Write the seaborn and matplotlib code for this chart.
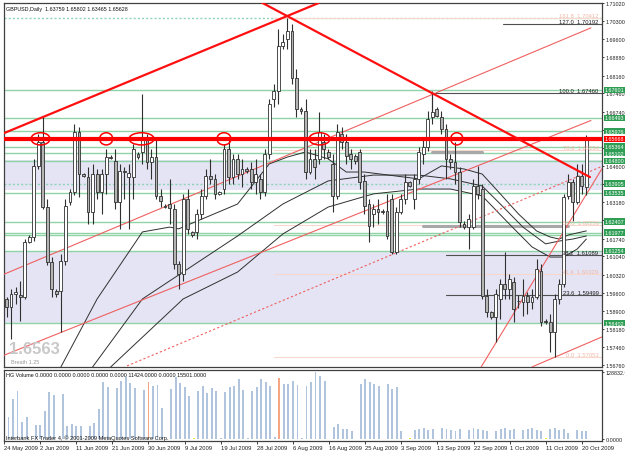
import numpy as np
import pandas as pd
import matplotlib
matplotlib.use('Agg')
import matplotlib.pyplot as plt
import matplotlib.transforms as mtransforms
from matplotlib.patches import Ellipse
import seaborn as sns

sns.set_style('white')
plt.rcParams['font.family'] = ['Liberation Sans', 'DejaVu Sans']

# ---------------- data ----------------
dates = ['24 May 2009', '2 Jun 2009', '11 Jun 2009', '21 Jun 2009', '30 Jun 2009',
         '9 Jul 2009', '19 Jul 2009', '28 Jul 2009', '6 Aug 2009', '16 Aug 2009',
         '25 Aug 2009', '3 Sep 2009', '13 Sep 2009', '22 Sep 2009', '1 Oct 2009',
         '11 Oct 2009', '20 Oct 2009']

opens = [1.5916, 1.5936, 1.5904, 1.5955, 1.5951, 1.5944, 1.6160, 1.6180, 1.6460, 1.6554,
         1.6298, 1.6082, 1.5967, 1.5967, 1.6086, 1.6318, 1.6357, 1.6594, 1.6428, 1.6416,
         1.6279, 1.6428, 1.6357, 1.6428, 1.6495, 1.6480, 1.6318, 1.6440, 1.6416, 1.6416,
         1.6507, 1.6515, 1.6566, 1.6476, 1.6495, 1.6342, 1.6302, 1.6310, 1.6290, 1.6074,
         1.6034, 1.6330, 1.6200, 1.6200, 1.6271, 1.6342, 1.6420, 1.6409, 1.6350, 1.6369,
         1.6527, 1.6416, 1.6488, 1.6428, 1.6448, 1.6448, 1.6397, 1.6409, 1.6357, 1.6507,
         1.6724, 1.6755, 1.6932, 1.6960, 1.6992, 1.6807, 1.6685, 1.6677, 1.6436, 1.6488,
         1.6488, 1.6554, 1.6515, 1.6468, 1.6342, 1.6586, 1.6554, 1.6507, 1.6499, 1.6515,
         1.6401, 1.6310, 1.6271, 1.6290, 1.6282, 1.6282, 1.6330, 1.6121, 1.6279, 1.6330,
         1.6397, 1.6330, 1.6409, 1.6507, 1.6535, 1.6653, 1.6685, 1.6653, 1.6606, 1.6488,
         1.6476, 1.6436, 1.6231, 1.6219, 1.6219, 1.6381, 1.6369, 1.5948, 1.5885, 1.5865,
         1.5936, 1.5995, 1.5975, 1.6003, 1.5928, 1.5924, 1.5948, 1.5924, 1.5944, 1.6046,
         1.5849, 1.5845, 1.5806, 1.5936, 1.5995, 1.6342, 1.6397, 1.6318, 1.6420, 1.63759]
highs = [1.5955, 1.5944, 1.5975, 1.5983, 1.6007, 1.6172, 1.6188, 1.6488, 1.6586, 1.6657,
         1.6330, 1.6101, 1.5975, 1.6113, 1.6330, 1.6369, 1.6625, 1.6614, 1.6432, 1.6456,
         1.6468, 1.6448, 1.6448, 1.6527, 1.6503, 1.6527, 1.6468, 1.6456, 1.6468, 1.6547,
         1.6515, 1.6744, 1.6586, 1.6527, 1.6566, 1.6369, 1.6310, 1.6409, 1.6310, 1.6086,
         1.6350, 1.6369, 1.6204, 1.6290, 1.6369, 1.6448, 1.6488, 1.6428, 1.6361, 1.6547,
         1.6566, 1.6507, 1.6507, 1.6488, 1.6456, 1.6476, 1.6488, 1.6428, 1.6527, 1.6724,
         1.6783, 1.6999, 1.6980, 1.7043, 1.7019, 1.6842, 1.6693, 1.6724, 1.6527, 1.6527,
         1.6673, 1.6586, 1.6527, 1.6507, 1.6625, 1.6614, 1.6586, 1.6527, 1.6507, 1.6527,
         1.6428, 1.6330, 1.6310, 1.6330, 1.6290, 1.6350, 1.6350, 1.6298, 1.6350, 1.6428,
         1.6401, 1.6428, 1.6535, 1.6566, 1.6677, 1.6755, 1.6693, 1.6677, 1.6625, 1.6507,
         1.6554, 1.6456, 1.6243, 1.6271, 1.6409, 1.6460, 1.6389, 1.5975, 1.5889, 1.5975,
         1.6015, 1.6121, 1.6034, 1.6023, 1.5951, 1.6015, 1.5963, 1.5975, 1.6094, 1.6074,
         1.5857, 1.5877, 1.5955, 1.6015, 1.6350, 1.6428, 1.6409, 1.6468, 1.6468, 1.65802]
lows = [1.5889, 1.5865, 1.5778, 1.5916, 1.5849, 1.5936, 1.6156, 1.6164, 1.6448, 1.6290,
        1.6070, 1.5944, 1.5944, 1.5806, 1.6070, 1.6306, 1.6346, 1.6338, 1.6416, 1.6231,
        1.6231, 1.6330, 1.6271, 1.6350, 1.6488, 1.6290, 1.6212, 1.6330, 1.6212, 1.6330,
        1.6488, 1.6468, 1.6448, 1.6409, 1.6330, 1.6298, 1.6294, 1.6231, 1.6054, 1.5975,
        1.6007, 1.6192, 1.6180, 1.6172, 1.6251, 1.6330, 1.6389, 1.6330, 1.6346, 1.6350,
        1.6389, 1.6389, 1.6409, 1.6377, 1.6432, 1.6369, 1.6350, 1.6330, 1.6342, 1.6488,
        1.6693, 1.6705, 1.6921, 1.6921, 1.6783, 1.6653, 1.6665, 1.6409, 1.6428, 1.6409,
        1.6468, 1.6488, 1.6488, 1.6279, 1.6330, 1.6527, 1.6468, 1.6448, 1.6468, 1.6369,
        1.6271, 1.6160, 1.6219, 1.6231, 1.6271, 1.6172, 1.6113, 1.6113, 1.6271, 1.6310,
        1.6377, 1.6290, 1.6389, 1.6468, 1.6519, 1.6625, 1.6653, 1.6586, 1.6409, 1.6448,
        1.6389, 1.6219, 1.6212, 1.6133, 1.6212, 1.6330, 1.5936, 1.5865, 1.5857, 1.5766,
        1.5857, 1.5936, 1.5936, 1.5845, 1.5900, 1.5869, 1.5877, 1.5896, 1.5936, 1.5829,
        1.5837, 1.5727, 1.5707, 1.5916, 1.5983, 1.6330, 1.6243, 1.6310, 1.6350, 1.63465]
closes = [1.5936, 1.5904, 1.5955, 1.5963, 1.5944, 1.6160, 1.6180, 1.6460, 1.6554, 1.6298,
          1.6082, 1.5975, 1.5955, 1.6086, 1.6302, 1.6357, 1.6594, 1.6428, 1.6420, 1.6279,
          1.6428, 1.6357, 1.6428, 1.6495, 1.6491, 1.6318, 1.6440, 1.6436, 1.6432, 1.6527,
          1.6495, 1.6566, 1.6476, 1.6495, 1.6342, 1.6322, 1.6298, 1.6294, 1.6074, 1.6034,
          1.6330, 1.6212, 1.6188, 1.6271, 1.6342, 1.6420, 1.6409, 1.6350, 1.6357, 1.6527,
          1.6416, 1.6488, 1.6428, 1.6448, 1.6440, 1.6397, 1.6428, 1.6357, 1.6507, 1.6705,
          1.6755, 1.6932, 1.6948, 1.6992, 1.6807, 1.6685, 1.6677, 1.6436, 1.6488, 1.6456,
          1.6594, 1.6527, 1.6495, 1.6342, 1.6594, 1.6554, 1.6499, 1.6488, 1.6480, 1.6397,
          1.6302, 1.6223, 1.6290, 1.6279, 1.6279, 1.6184, 1.6121, 1.6279, 1.6330, 1.6397,
          1.6381, 1.6409, 1.6515, 1.6535, 1.6645, 1.6673, 1.6657, 1.6606, 1.6488, 1.6476,
          1.6436, 1.6239, 1.6219, 1.6251, 1.6381, 1.6350, 1.5948, 1.5885, 1.5865, 1.5955,
          1.5995, 1.5975, 1.6015, 1.5896, 1.5926, 1.5948, 1.5924, 1.5944, 1.6054, 1.5845,
          1.5845, 1.5806, 1.5936, 1.5995, 1.6338, 1.6397, 1.6318, 1.6420, 1.6381, 1.65628]

volumes = [0, 42300, 76900, 92300, 32700, 42300, 0, 26900, 26900, 53800,
           90400, 84600, 0, 86500, 25000, 28800, 25000, 25000, 0, 25000,
           30800, 57700, 109600, 100000, 0, 98100, 111500, 119200, 107700, 98100,
           0, 94200, 109600, 101900, 103800, 59600, 0, 96200, 119200, 107700,
           100000, 82700, 1900, 92300, 101900, 88500, 98100, 92300, 1900, 90400,
           100000, 101900, 115400, 94200, 1900, 92300, 100000, 115400, 109600, 101900,
           3800, 117300, 105800, 105800, 111500, 103800, 1900, 101900, 109600, 128800,
           121100, 111500, 0, 23100, 28800, 19200, 19200, 15400, 0, 105800,
           115400, 109600, 105800, 101900, 0, 105800, 96200, 100000, 15400, 0,
           1900, 17300, 19200, 21200, 17300, 19200, 0, 21200, 19200, 17300,
           15400, 19200, 0, 17300, 21200, 19200, 17300, 15400, 0, 15400,
           19200, 21200, 17300, 19200, 0, 17300, 19200, 21200, 17300, 15400,
           1900, 19200, 21200, 17300, 19200, 11500, 0, 17300, 15400, 15501]
volume_hilite = {32: '#f4a582', 61: '#f4a582', 42: '#f0e040', 90: '#f0e040', 120: '#f0e040'}

# moving averages: (bar, value) knots
ma1_bars = [13, 21, 31, 37, 39, 52, 59, 63, 67, 72, 76, 80, 92, 97, 102, 106, 110, 114, 118, 121, 123, 125, 129]
ma1_vals = [1.5668, 1.5936, 1.6200, 1.6219, 1.6212, 1.6310, 1.6468, 1.6495, 1.6515, 1.6488, 1.6436, 1.6436,
            1.6409, 1.6460, 1.6448, 1.6428, 1.6350, 1.6271, 1.6204, 1.6180, 1.6172, 1.6188, 1.6204]
ma2_bars = [20, 31, 52, 62, 72, 82, 92, 99, 106, 110, 115, 120, 123, 126, 129]
ma2_vals = [1.5668, 1.5936, 1.6184, 1.6310, 1.6401, 1.6424, 1.6424, 1.6409, 1.6381, 1.6310, 1.6219,
            1.6153, 1.6164, 1.6172, 1.6184]
ma3_bars = [24, 40, 52, 62, 72, 82, 92, 99, 106, 112, 117, 121, 124, 127, 129]
ma3_vals = [1.5668, 1.5936, 1.6042, 1.6192, 1.6298, 1.6350, 1.6369, 1.6369, 1.6342, 1.6231, 1.6141,
            1.6101, 1.6101, 1.6133, 1.6172]

# horizontal levels
level_main = 1.65668
green_levels = [1.67601, 1.66493, 1.65976, 1.65364, 1.65102, 1.64800, 1.63535,
                1.62407, 1.61977, 1.61870, 1.61254, 1.58402]
green_dotted = [1.63905, 1.70427]
bands = [(1.63650, 1.64850), (1.58402, 1.61254)]
ellipse_bars = [(8.5, 4.2), (23.0, 2.9), (30.8, 5.5), (49.0, 3.1), (70.1, 4.6), (100.4, 2.7)]

# trend lines: (bar0, price0, bar1, price1)
ray_line = (0, 1.6586, 63, 1.7051)
down_line = (55, 1.7126, 129.8, 1.6416)
thin_lines = [(0, 1.6030, 130, 1.7004), (0, 1.5711, 130, 1.6639),
              (105.5, 1.5660, 132.4, 1.6448), (117, 1.5668, 132.4, 1.5786)]
dotted_lines = [(27.6, 1.5672, 132.4, 1.6458)]

fib_black = [(1.70192, '127.0  1.70192', 110.5), (1.67460, '100.0  1.67460', 95),
             (1.61089, '38.2  1.61089', 98), (1.59499, '23.6  1.59499', 98)]
fib_faint = [(1.70412, '161.8  1.70412'), (1.65234, '78.6  1.65234'), (1.62256, '50.0  1.62256'),
             (1.60329, '31.4  1.60329'), (1.57053, '0.0  1.57053')]
gray_bars = [(1.6223, 93, 125), (1.6515, 95, 106)]

price_ticks = [1.71020, 1.70300, 1.69600, 1.68880, 1.68160, 1.67460, 1.66740, 1.66020, 1.65300,
               1.64600, 1.63880, 1.63180, 1.62460, 1.61740, 1.61040, 1.60320, 1.59600, 1.58900,
               1.58180, 1.57460, 1.56760]
box_labels = [(1.67601, '#2f9e55'), (1.66493, '#2f9e55'), (1.65976, '#2f9e55'), (1.65364, '#2f9e55'),
              (1.65102, '#2f9e55'), (1.64800, '#2f9e55'), (1.63905, '#2f9e55'), (1.63535, '#2f9e55'),
              (1.62407, '#2f9e55'), (1.61977, '#2f9e55'), (1.61254, '#2f9e55'), (1.58402, '#2f9e55'),
              (1.65668, '#ff0000')]

# ---------------- figure ----------------
W, H = 625, 456
fig = plt.figure(figsize=(W / 100, H / 100), dpi=100)
ax = fig.add_axes([4 / W, (H - 368) / H, 598 / W, 364 / H])
axv = fig.add_axes([4 / W, (H - 442) / H, 598 / W, 71 / H])

xlim = (0.44, 132.45)
n = len(closes)
bars = np.arange(n)
df = pd.DataFrame({'bar': bars, 'open': opens, 'high': highs, 'low': lows,
                   'close': closes, 'volume': volumes})
tr = mtransforms.blended_transform_factory(ax.transAxes, ax.transData)

# bands + levels
for lo, hi in bands:
    ax.axhspan(lo, hi, color='#e4e4f4', zorder=0, lw=0)
for lv in green_levels:
    ax.axhline(lv, color='#8fd3a6', lw=1.0, zorder=1)
for lv in green_dotted:
    ax.axhline(lv, color='#8fd3b8', lw=1.0, ls=(0, (1.5, 1.5)), zorder=1)
for p, txt in fib_faint:
    ax.plot([60, xlim[1]], [p, p], color='#f8d8cc', lw=0.8, zorder=1)
    ax.text(0.994, p, txt, transform=tr, ha='right', va='bottom', fontsize=4.2,
            color='#f0b8a8', zorder=6)
for p, x0, x1 in gray_bars:
    ax.plot([x0, x1], [p, p], color='#a8a8a8', lw=2.2, zorder=2)
for p, txt, x0 in fib_black:
    ax.plot([x0, xlim[1]], [p, p], color='#505050', lw=0.8, zorder=2)
    ax.text(0.994, p, txt, transform=tr, ha='right', va='bottom', fontsize=4.2,
            color='#202020', zorder=6)
ax.plot([95, 95], [1.67460, 1.6660], color='#505050', lw=0.8, zorder=2)

# moving averages
for mb, mv in [(ma1_bars, ma1_vals), (ma2_bars, ma2_vals), (ma3_bars, ma3_vals)]:
    sns.lineplot(x=mb, y=mv, ax=ax, color='#303030', lw=0.7, zorder=3)

# thin trend lines
for b0, p0, b1, p1 in thin_lines:
    sns.lineplot(x=[b0, b1], y=[p0, p1], ax=ax, color='#f06060', lw=0.8, zorder=3)
for b0, p0, b1, p1 in dotted_lines:
    ax.plot([b0, b1], [p0, p1], color='#f06060', lw=0.8, ls=(0, (2, 2)), zorder=3)

# candles
up = df['close'] >= df['open']
ax.vlines(df['bar'], df['low'], df['high'], color='#303030', lw=0.8, zorder=4)
body_h = (df['close'] - df['open']).abs().clip(lower=0.00025)
body_b = df[['open', 'close']].min(axis=1)
ax.bar(df['bar'][up], body_h[up], bottom=body_b[up], width=0.62,
       color='#ffffff', edgecolor='#303030', lw=0.6, zorder=5)
ax.bar(df['bar'][~up], body_h[~up], bottom=body_b[~up], width=0.62,
       color='#b4b4b4', edgecolor='#303030', lw=0.6, zorder=5)

# thick red lines
ax.axhline(level_main, color='#ff0000', lw=3.0, zorder=6)
ax.axline(ray_line[:2], ray_line[2:], color='#ff1010', lw=1.6, zorder=6)
sns.lineplot(x=[down_line[0], down_line[2]], y=[down_line[1], down_line[3]], ax=ax,
             color='#ff1010', lw=1.6, zorder=6)
for bc, bw in ellipse_bars:
    ax.add_patch(Ellipse((bc, level_main), bw, 0.0048, fill=False, edgecolor='#ff0000', lw=1.1, zorder=7))

ax.set_xlim(*xlim)
ax.set_ylim(1.56678, 1.71020)
ax.set_xticks([])
ax.set_xlabel('')
ax.set_ylabel('')
ax.yaxis.tick_right()
ax.set_yticks(price_ticks)
ax.set_yticklabels([f'{p:.5f}' for p in price_ticks])
ax.tick_params(axis='y', labelsize=3.9, length=1.6, width=0.6, pad=0.8, colors='#202020', right=True)
for s in ax.spines.values():
    s.set_color('#404040')
    s.set_linewidth(0.9)

for p, c in box_labels:
    ax.text(1.0045, p, f'{p:.5f}', transform=tr, ha='left', va='center', fontsize=3.9, color='white',
            bbox=dict(facecolor=c, edgecolor='none', pad=0.5), zorder=10, clip_on=False)

ax.text(0.004, 0.993, 'GBPUSD,Daily  1.63759 1.65802 1.63465 1.65628', transform=ax.transAxes,
        ha='left', va='top', fontsize=3.9, color='#101010')
ax.text(0.008, 0.05, '1.6563', transform=ax.transAxes, ha='left', va='center', fontsize=12,
        fontweight='bold', color='#c8c8c8')
ax.text(0.012, 0.016, 'Breath 1.25', transform=ax.transAxes, ha='left', va='center', fontsize=4.0,
        color='#9a9a9a')

# ---------------- volume panel ----------------
vcolors = [volume_hilite.get(i, '#b0c4de') for i in bars]
axv.bar(df['bar'], df['volume'], width=0.42, color=vcolors, lw=0)
axv.set_xlim(*xlim)
axv.set_ylim(-3846, 132679)
axv.yaxis.tick_right()
axv.set_yticks([128832.9, 0])
axv.set_yticklabels(['128832.9', '0.0000'])
axv.tick_params(axis='y', labelsize=3.9, length=1.6, width=0.6, pad=0.8, colors='#202020')
axv.set_xticks(np.arange(0, n, 8))
axv.set_xticklabels(dates)
axv.tick_params(axis='x', labelsize=4.2, length=2.0, width=0.6, pad=1.0, colors='#202020', bottom=True)
for lab in axv.get_xticklabels():
    lab.set_ha('left')
for s in axv.spines.values():
    s.set_color('#404040')
    s.set_linewidth(0.9)
axv.text(0.004, 0.965, 'HG Volume 0.0000 0.0000 0.0000 0.0000 0.0000 11424.0000 0.0000 15501.0000',
         transform=axv.transAxes, ha='left', va='top', fontsize=3.9, color='#101010')
axv.text(0.004, 0.02, 'Interbank FX Trader 4, \u00a9 2001-2009 MetaQuotes Software Corp.',
         transform=axv.transAxes, ha='left', va='bottom', fontsize=4.1, color='#101010')

fig.savefig('out.png', dpi=100)
